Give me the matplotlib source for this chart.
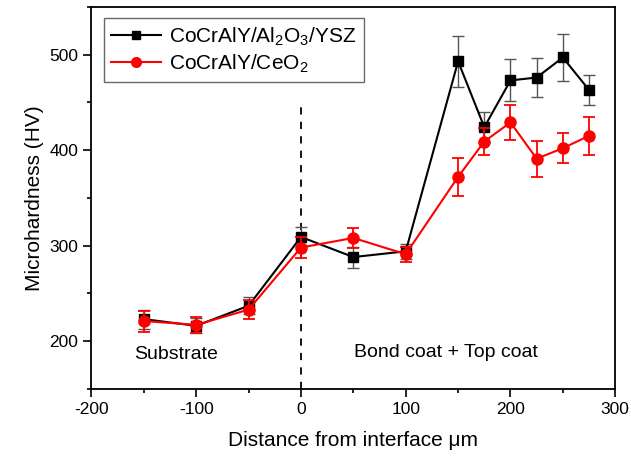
import matplotlib
matplotlib.use("Agg")
import matplotlib.pyplot as plt
from matplotlib.ticker import MultipleLocator
from matplotlib.lines import Line2D

plt.rcParams['font.family'] = ['Liberation Sans', 'DejaVu Sans']
plt.rcParams['mathtext.fontset'] = 'custom'
plt.rcParams['mathtext.rm'] = 'Liberation Sans'
plt.rcParams['mathtext.it'] = 'Liberation Sans'
plt.rcParams['axes.unicode_minus'] = False

distance = [-150, -100, -50, 0, 50, 100, 150, 175, 200, 225, 250, 275]
al2o3_ysz = [223, 216, 237, 309, 288, 294, 493, 424, 473, 476, 497, 463]
al2o3_err = [10, 8, 9, 10, 11, 8, 27, 16, 22, 20, 25, 16]
ceo2 = [221, 217, 233, 298, 308, 291, 372, 409, 429, 391, 402, 415]
ceo2_err = [11, 8, 10, 11, 10, 8, 20, 14, 18, 19, 16, 20]

fig = plt.figure(figsize=(6.31, 4.58), dpi=100)
ax = fig.add_axes([0.145, 0.151, 0.83, 0.834])

ax.errorbar(distance, al2o3_ysz, yerr=al2o3_err, color='black', marker='s',
            markersize=7, linewidth=1.5, ecolor='#555555', elinewidth=1,
            capsize=4, capthick=1, zorder=3)
ax.errorbar(distance, ceo2, yerr=ceo2_err, color='red', marker='o',
            markersize=8, linewidth=1.5, ecolor='red', elinewidth=1.3,
            capsize=4, capthick=1.3, zorder=4)

ax.plot([0, 0], [150, 448], color='black', linestyle=(0, (4, 4)), linewidth=1.3, zorder=2)

ax.text(-119, 186, 'Substrate', ha='center', va='center', fontsize=14)
ax.text(138, 188, 'Bond coat + Top coat', ha='center', va='center', fontsize=14)

ax.set_xlim(-200, 300)
ax.set_ylim(150, 550)
ax.xaxis.set_major_locator(MultipleLocator(100))
ax.xaxis.set_minor_locator(MultipleLocator(50))
ax.yaxis.set_minor_locator(MultipleLocator(50))
ax.set_yticks([200, 300, 400, 500])
ax.tick_params(axis='both', which='major', direction='out', length=6, width=1.2, labelsize=12.5)
ax.tick_params(axis='both', which='minor', direction='out', length=3, width=1.2)
for s in ax.spines.values():
    s.set_linewidth(1.3)

ax.set_xlabel('Distance from interface \u03bcm', fontsize=15, labelpad=10)
ax.set_ylabel('Microhardness (HV)', fontsize=15, labelpad=4)

handles = [
    Line2D([], [], color='black', marker='s', markersize=6, linewidth=1.5),
    Line2D([], [], color='red', marker='o', markersize=7, linewidth=1.5),
]
labels = ['CoCrAlY/Al$_2$O$_3$/YSZ', 'CoCrAlY/CeO$_2$']
leg = ax.legend(handles, labels, loc='upper left', fontsize=15, frameon=True, fancybox=False,
                edgecolor='#444444', handlelength=2.4, handletextpad=0.4, borderpad=0.35,
                labelspacing=0.25, borderaxespad=0, bbox_to_anchor=(0.023, 0.971))
leg.get_frame().set_linewidth(1.0)

fig.savefig('out.png', dpi=100)
